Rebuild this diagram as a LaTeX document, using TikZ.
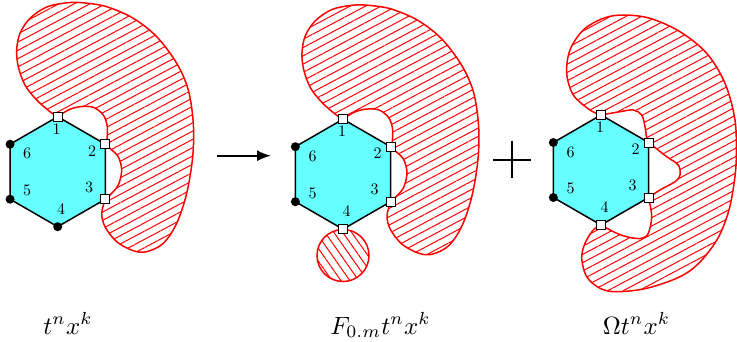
\documentclass[tikz,border=0pt]{standalone}
\usetikzlibrary{calc,patterns.meta,arrows.meta}
\definecolor{hexcyan}{RGB}{102,255,255}
\tikzset{
  blobline/.style={draw=red, line width=1.5pt, line join=round,
    pattern={Lines[angle=28,distance=7.3pt,line width=1pt]}, pattern color=red},
  smallblob/.style={draw=red, line width=1.5pt,
    pattern={Lines[angle=-55,distance=7.3pt,line width=1pt]}, pattern color=red},
  hexa/.style={draw=black, fill=hexcyan, line width=1.5pt, line join=round},
  sqm/.style={rectangle, draw=black, fill=white, line width=1pt, minimum size=9pt, inner sep=0pt},
  dotm/.style={circle, fill=black, minimum size=9pt, inner sep=0pt},
  digit/.style={inner sep=0pt, scale=1.6},
  biglbl/.style={inner sep=0pt, anchor=base, scale=2.5},
  opline/.style={line width=2pt}
}
\newcommand\mkhex[3]{%
  \coordinate (#1c) at (#2,#3);
  \coordinate (#11) at ({#2},{#3-55});
  \coordinate (#12) at ({#2+47.63},{#3-27.5});
  \coordinate (#13) at ({#2+47.63},{#3+27.5});
  \coordinate (#14) at ({#2},{#3+55});
  \coordinate (#15) at ({#2-47.63},{#3+27.5});
  \coordinate (#16) at ({#2-47.63},{#3-27.5});
}
\newcommand\drawhexagon[1]{%
  \draw[hexa] (#11) -- (#12) -- (#13) -- (#14) -- (#15) -- (#16) -- cycle;
  \node[digit] (#1-n1) at ($(#1c)+(-1,-43)$) {1};
  \node[digit] (#1-n2) at ($(#1c)+(34.5,-21)$) {2};
  \node[digit] (#1-n3) at ($(#1c)+(31.5,15.3)$) {3};
  \node[digit] (#1-n4) at ($(#1c)+(3.5,37)$) {4};
  \node[digit] (#1-n5) at ($(#1c)+(-30.5,18.7)$) {5};
  \node[digit] (#1-n6) at ($(#1c)+(-30.5,-18)$) {6};
}
\newcommand\blobone[1]{%
  \path[blobline] (#11) -- plot[smooth,tension=0.55] coordinates {(#11) (50,111.7) (36.7,100) (25,85) (18.3,66.7) (16.7,50) (20,33.3) (30,18.3) (46.7,7) (66.7,2.8) (83.3,2.8) (106.7,6.7) (133.3,18.3) (156.7,36.7) (176.7,63.3) (188.3,90) (193.3,123.3) (192.7,156.7) (186.7,193.3) (176.7,223.3) (163.3,243.3) (146.7,251.7) (133.3,250.7) (116.7,241.7) (105,226.7) (101.7,213.3) (#13)}
  -- plot[smooth,tension=0.55] coordinates {(#13) (110,195) (118.3,185) (121.7,170) (118.3,156.7) (111.7,150) (#12)}
  -- plot[smooth,tension=0.55] coordinates {(#12) (106.7,141.7) (107.3,126.7) (103.3,115) (93.3,107.3) (80,106.7) (68.3,110) (#11)}
  -- cycle;
}
\begin{document}
\begin{tikzpicture}[x=1pt,y=-1pt]
\useasboundingbox (0,0) rectangle (737,341);
\mkhex{a}{57.7}{171.7}
\mkhex{b}{343}{174.2}
\mkhex{c}{601}{170}
% blobs
\blobone{a}
\begin{scope}[shift={(285.3,2.5)}]
  \blobone{b}
\end{scope}
\path[smallblob] (343,255.5) circle[radius=26];
\path[blobline] (c1) -- plot[smooth,tension=0.55] coordinates {(c1) (590,110) (573.3,95) (566.7,73.3) (570,50) (583.3,30) (603.3,18.3) (623.3,15) (650,18.3) (680,31.7) (706.7,53.3) (725,83.3) (735,120) (736.3,156.7) (734.5,180) (729,210) (718,238) (700,262) (680,276.7) (646.7,288.3) (616.7,291.7) (600,288.3) (586.7,276.7) (581.7,258.3) (585,243.3) (593.3,230) (c4)}
  -- plot[smooth,tension=0.55] coordinates {(c4) (616.7,233.3) (630,237.5) (641.7,238.3) (648.3,233.3) (651.7,216.7) (c3)}
  -- plot[smooth,tension=0.55] coordinates {(c3) (660,190) (675,181.7) (680,175) (678.3,165) (666.7,156.7) (c2)}
  -- plot[smooth,tension=0.55] coordinates {(c2) (646.7,138.3) (645,126.7) (641.7,115) (633.3,110) (620,111.7) (c1)}
  -- cycle;
% hexagons
\drawhexagon{a}
\drawhexagon{b}
\drawhexagon{c}
% markers
\node[sqm] (a-m1) at (a1) {};
\node[sqm] (a-m2) at (a2) {};
\node[sqm] (a-m3) at (a3) {};
\node[dotm] (a-m4) at (a4) {};
\node[dotm] (a-m5) at (a5) {};
\node[dotm] (a-m6) at (a6) {};
\node[sqm] (b-m1) at (b1) {};
\node[sqm] (b-m2) at (b2) {};
\node[sqm] (b-m3) at (b3) {};
\node[sqm] (b-m4) at (b4) {};
\node[dotm] (b-m5) at (b5) {};
\node[dotm] (b-m6) at (b6) {};
\node[sqm] (c-m1) at (c1) {};
\node[sqm] (c-m2) at (c2) {};
\node[sqm] (c-m3) at (c3) {};
\node[sqm] (c-m4) at (c4) {};
\node[dotm] (c-m5) at (c5) {};
\node[dotm] (c-m6) at (c6) {};
% arrow and plus
\coordinate (arrS) at (216.7,155.7);
\coordinate (arrE) at (271,155.7);
\draw[opline,-{Latex[length=14pt,width=11pt]}] (arrS) -- (arrE);
\coordinate (pT) at (512.3,140.7);
\coordinate (pB) at (512.3,178.3);
\coordinate (pL) at (493.3,159.5);
\coordinate (pR) at (531,159.5);
\draw[opline] (pT) -- (pB);
\draw[opline] (pL) -- (pR);
% labels
\node[biglbl] (lab1) at (68,334) {$t^nx^k$};
\node[biglbl] (lab2) at (380.5,334) {$F_{0.m}t^nx^k$};
\node[biglbl] (lab3) at (636.5,334) {$\Omega t^nx^k$};
\end{tikzpicture}
\end{document}
